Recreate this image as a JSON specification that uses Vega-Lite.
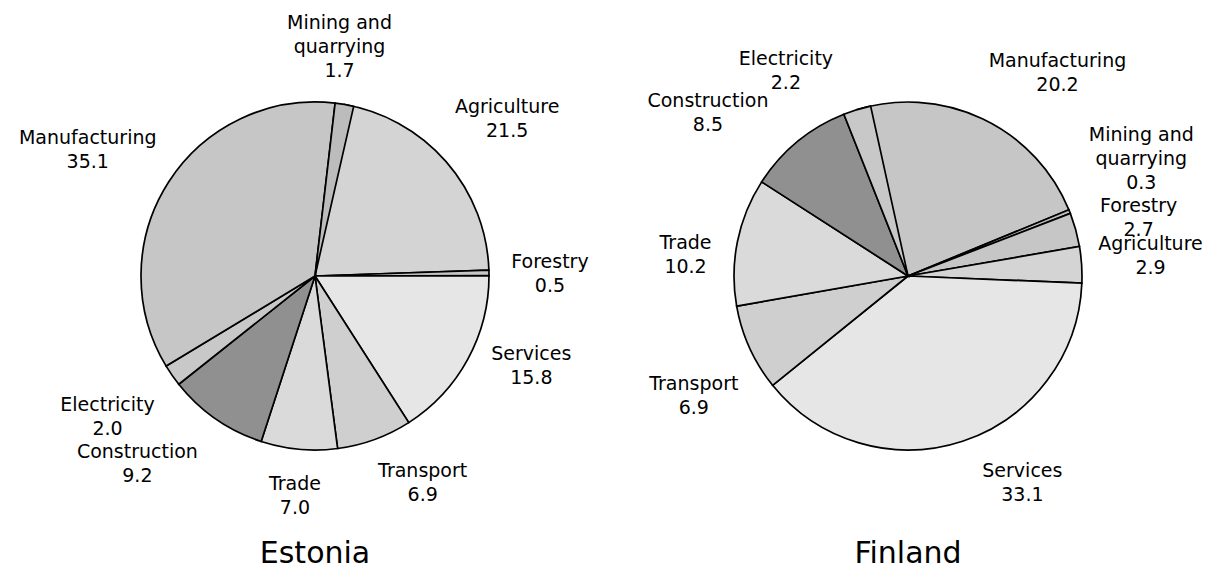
{
  "$schema": "https://vega.github.io/schema/vega-lite/v6.json",
  "padding": 0,
  "spacing": 0,
  "background": "white",
  "config": {
    "view": {"stroke": null},
    "font": "DejaVu Sans",
    "text": {"fontSize": 19, "font": "DejaVu Sans", "lineBreak": "\n", "lineHeight": 24, "fill": "black", "align": "center", "baseline": "middle"},
    "arc": {"stroke": "black", "strokeWidth": 1.7}
  },
  "datasets": {
    "estonia": [
      {"seq": 1, "sector": "Agriculture", "share": 21.5},
      {"seq": 2, "sector": "Forestry", "share": 0.5},
      {"seq": 3, "sector": "Services", "share": 15.8},
      {"seq": 4, "sector": "Transport", "share": 6.9},
      {"seq": 5, "sector": "Trade", "share": 7.0},
      {"seq": 6, "sector": "Construction", "share": 9.2},
      {"seq": 7, "sector": "Electricity", "share": 2.0},
      {"seq": 8, "sector": "Manufacturing", "share": 35.1},
      {"seq": 9, "sector": "Mining and quarrying", "share": 1.7}
    ],
    "finland": [
      {"seq": 1, "sector": "Manufacturing", "share": 20.2},
      {"seq": 2, "sector": "Mining and quarrying", "share": 0.3},
      {"seq": 3, "sector": "Forestry", "share": 2.7},
      {"seq": 4, "sector": "Agriculture", "share": 2.9},
      {"seq": 5, "sector": "Services", "share": 33.1},
      {"seq": 6, "sector": "Transport", "share": 6.9},
      {"seq": 7, "sector": "Trade", "share": 10.2},
      {"seq": 8, "sector": "Construction", "share": 8.5},
      {"seq": 9, "sector": "Electricity", "share": 2.2}
    ]
  },
  "hconcat": [
    {
      "width": 630,
      "height": 552,
      "title": {"text": "Estonia", "orient": "bottom", "anchor": "middle", "frame": "group", "fontSize": 30, "fontWeight": "normal", "font": "DejaVu Sans", "baseline": "alphabetic", "offset": 11, "color": "black"},
      "data": {"name": "estonia"},
      "transform": [
        {"stack": "share", "groupby": [], "sort": [{"field": "seq", "order": "ascending"}], "as": ["s0", "s1"]},
        {"calculate": "(datum.s0 + datum.s1) / 2", "as": "mid"},
        {"calculate": "replace(datum.sector, 'and ', 'and\\n') + '\\n' + format(datum.share, '.1f')", "as": "label"}
      ],
      "encoding": {
        "text": {"field": "label", "type": "nominal"}
      },
      "layer": [
        {
          "mark": {"type": "arc", "radius": 174},
          "encoding": {
            "theta": {"field": "s0", "type": "quantitative", "stack": null, "scale": {"range": [0.17, 6.4532], "nice": false, "zero": true}},
            "theta2": {"field": "s1"},
            "text": null,
            "fill": {"field": "sector", "type": "nominal", "legend": null,
              "scale": {"domain": ["Agriculture", "Forestry", "Services", "Transport", "Trade", "Construction", "Electricity", "Manufacturing", "Mining and quarrying"],
                        "range": ["#d4d4d4", "#c6c6c6", "#e6e6e6", "#cfcfcf", "#dadada", "#909090", "#c8c8c8", "#c6c6c6", "#bcbcbc"]}}
          }
        },
        {
          "transform": [{"filter": {"field": "sector", "oneOf": ["Trade"]}}],
          "mark": {"type": "text", "radius": 218, "dy": -9},
          "encoding": {"theta": {"field": "mid", "type": "quantitative", "stack": null}}
        },
        {
          "transform": [{"filter": {"field": "sector", "oneOf": ["Transport"]}}],
          "mark": {"type": "text", "radius": 218, "dx": 33, "dy": -10},
          "encoding": {"theta": {"field": "mid", "type": "quantitative", "stack": null}}
        },
        {
          "transform": [{"filter": {"field": "sector", "oneOf": ["Services"]}}],
          "mark": {"type": "text", "radius": 218, "dx": 25, "dy": -26},
          "encoding": {"theta": {"field": "mid", "type": "quantitative", "stack": null}}
        },
        {
          "transform": [{"filter": {"field": "sector", "oneOf": ["Forestry", "Electricity"]}}],
          "mark": {"type": "text", "radius": 243, "dx": -8, "dy": -10},
          "encoding": {"theta": {"field": "mid", "type": "quantitative", "stack": null}}
        },
        {
          "transform": [{"filter": {"field": "sector", "oneOf": ["Construction"]}}],
          "mark": {"type": "text", "radius": 243, "dx": -39, "dy": -24},
          "encoding": {"theta": {"field": "mid", "type": "quantitative", "stack": null}}
        },
        {
          "transform": [{"filter": {"field": "sector", "oneOf": ["Agriculture", "Manufacturing"]}}],
          "mark": {"type": "text", "radius": 263, "dx": -6, "dy": 4},
          "encoding": {"theta": {"field": "mid", "type": "quantitative", "stack": null}}
        },
        {
          "transform": [{"filter": {"field": "sector", "oneOf": ["Mining and quarrying"]}}],
          "mark": {"type": "text", "radius": 263, "dx": -20, "dy": 6},
          "encoding": {"theta": {"field": "mid", "type": "quantitative", "stack": null}}
        }
      ]
    },
    {
      "width": 556,
      "height": 552,
      "title": {"text": "Finland", "orient": "bottom", "anchor": "middle", "frame": "group", "fontSize": 30, "fontWeight": "normal", "font": "DejaVu Sans", "baseline": "alphabetic", "offset": 11, "color": "black"},
      "data": {"name": "finland"},
      "transform": [
        {"stack": "share", "groupby": [], "sort": [{"field": "seq", "order": "ascending"}], "as": ["s0", "s1"]},
        {"calculate": "(datum.s0 + datum.s1) / 2", "as": "mid"},
        {"calculate": "replace(datum.sector, 'and ', 'and\\n') + '\\n' + format(datum.share, '.1f')", "as": "label"}
      ],
      "encoding": {
        "text": {"field": "label", "type": "nominal"}
      },
      "layer": [
        {
          "mark": {"type": "arc", "radius": 174},
          "encoding": {
            "theta": {"field": "s0", "type": "quantitative", "stack": null, "scale": {"range": [-0.297, 5.9862], "nice": false, "zero": true}},
            "theta2": {"field": "s1"},
            "text": null,
            "fill": {"field": "sector", "type": "nominal", "legend": null,
              "scale": {"domain": ["Agriculture", "Forestry", "Services", "Transport", "Trade", "Construction", "Electricity", "Manufacturing", "Mining and quarrying"],
                        "range": ["#d4d4d4", "#c6c6c6", "#e6e6e6", "#cfcfcf", "#dadada", "#909090", "#c8c8c8", "#c6c6c6", "#bcbcbc"]}}
          }
        },
        {
          "transform": [{"filter": {"field": "sector", "oneOf": ["Trade"]}}],
          "mark": {"type": "text", "radius": 232, "dx": 5, "dy": 13},
          "encoding": {"theta": {"field": "mid", "type": "quantitative", "stack": null}}
        },
        {
          "transform": [{"filter": {"field": "sector", "oneOf": ["Transport"]}}],
          "mark": {"type": "text", "radius": 232, "dx": -3, "dy": 12},
          "encoding": {"theta": {"field": "mid", "type": "quantitative", "stack": null}}
        },
        {
          "transform": [{"filter": {"field": "sector", "oneOf": ["Forestry"]}}],
          "mark": {"type": "text", "radius": 232, "dx": 7, "dy": -8},
          "encoding": {"theta": {"field": "mid", "type": "quantitative", "stack": null}}
        },
        {
          "transform": [{"filter": {"field": "sector", "oneOf": ["Services"]}}],
          "mark": {"type": "text", "radius": 218, "dx": 46, "dy": -12},
          "encoding": {"theta": {"field": "mid", "type": "quantitative", "stack": null}}
        },
        {
          "transform": [{"filter": {"field": "sector", "oneOf": ["Agriculture"]}}],
          "mark": {"type": "text", "radius": 243, "dy": -16},
          "encoding": {"theta": {"field": "mid", "type": "quantitative", "stack": null}}
        },
        {
          "transform": [{"filter": {"field": "sector", "oneOf": ["Electricity"]}}],
          "mark": {"type": "text", "radius": 243, "dx": -51, "dy": 15},
          "encoding": {"theta": {"field": "mid", "type": "quantitative", "stack": null}}
        },
        {
          "transform": [{"filter": {"field": "sector", "oneOf": ["Construction"]}}],
          "mark": {"type": "text", "radius": 263, "dx": -33, "dy": 28},
          "encoding": {"theta": {"field": "mid", "type": "quantitative", "stack": null}}
        },
        {
          "transform": [{"filter": {"field": "sector", "oneOf": ["Manufacturing"]}}],
          "mark": {"type": "text", "radius": 263, "dx": 37, "dy": 23},
          "encoding": {"theta": {"field": "mid", "type": "quantitative", "stack": null}}
        },
        {
          "transform": [{"filter": {"field": "sector", "oneOf": ["Mining and quarrying"]}}],
          "mark": {"type": "text", "radius": 263, "dx": -11, "dy": -44},
          "encoding": {"theta": {"field": "mid", "type": "quantitative", "stack": null}}
        }
      ]
    }
  ]
}
